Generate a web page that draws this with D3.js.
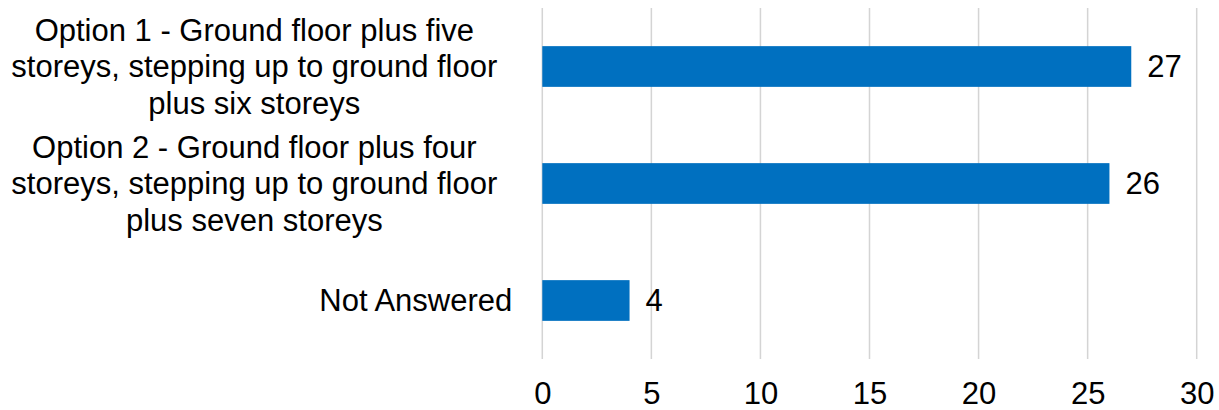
<!DOCTYPE html>
<html>
<head>
<meta charset="utf-8">
<script src="https://cdn.jsdelivr.net/npm/d3@7"></script>
<style>
  html, body { margin: 0; padding: 0; background: #fff; }
  svg { display: block; font-family: "Liberation Sans", Arial, sans-serif; }
</style>
</head>
<body>
<svg id="chart" width="1219" height="410"></svg>
<script>
// Response options (each inner array is one wrapped line of the label)
const categories = [
  ["Option 1 - Ground floor plus five", "storeys, stepping up to ground floor", "plus six storeys"],
  ["Option 2 - Ground floor plus four", "storeys, stepping up to ground floor", "plus seven storeys"],
  ["Not Answered"]
];
const counts = [27, 26, 4];
const xTicks = [0, 5, 10, 15, 20, 25, 30];

const width = 1219, height = 410;
const margin = { top: 8, right: 22.3, bottom: 51, left: 542.3 };
const fontSize = 31;
const lineHeight = 36.5;

const svg = d3.select("#chart");
const g = svg.append("g").attr("transform", `translate(${margin.left},${margin.top})`);
const innerW = width - margin.left - margin.right;
const innerH = height - margin.top - margin.bottom;

const x = d3.scaleLinear().domain([0, 30]).range([0, innerW]);
const y = d3.scaleBand()
  .domain(d3.range(categories.length))
  .range([0, innerH])
  .paddingInner(0.652)
  .paddingOuter(0.326);

// vertical gridlines
g.selectAll("line.grid")
  .data(xTicks)
  .join("line")
  .attr("class", "grid")
  .attr("x1", d => x(d)).attr("x2", d => x(d))
  .attr("y1", 0).attr("y2", innerH)
  .attr("stroke", "#d4d4d4")
  .attr("stroke-width", 1.5);

// bars
g.selectAll("rect.bar")
  .data(counts)
  .join("rect")
  .attr("class", "bar")
  .attr("x", x(0))
  .attr("y", (d, i) => y(i))
  .attr("width", d => x(d) - x(0))
  .attr("height", y.bandwidth())
  .attr("fill", "#0070C0");

// value labels
g.selectAll("text.val")
  .data(counts)
  .join("text")
  .attr("class", "val")
  .attr("x", d => x(d) + 16)
  .attr("y", (d, i) => y(i) + y.bandwidth() / 2)
  .attr("dy", "0.35em")
  .attr("font-size", fontSize)
  .attr("fill", "#000")
  .text(d => d);

// bottom axis tick labels
const xAxis = d3.axisBottom(x).tickValues(xTicks).tickSize(0).tickPadding(23);
const ax = g.append("g").attr("transform", `translate(0,${innerH})`).call(xAxis);
ax.select(".domain").remove();
ax.selectAll("text")
  .attr("font-size", fontSize)
  .attr("font-family", "Liberation Sans, Arial, sans-serif")
  .attr("fill", "#000");

// category labels: wrapped lines centred within the label block
const labelRight = -30;
const labels = g.selectAll("g.cat")
  .data(categories)
  .join("g")
  .attr("class", "cat");

labels.each(function (lines, i) {
  const grp = d3.select(this);
  const cy = y(i) + y.bandwidth() / 2;
  const texts = grp.selectAll("text")
    .data(lines)
    .join("text")
    .attr("font-size", fontSize)
    .attr("fill", "#000")
    .attr("text-anchor", "middle")
    .attr("y", (d, k) => cy + (k - (lines.length - 1) / 2) * lineHeight)
    .attr("dy", "0.35em")
    .text(d => d);
  let maxW = 0;
  texts.each(function () { maxW = Math.max(maxW, this.getComputedTextLength()); });
  const right = lines.length > 1 ? labelRight - 15 : labelRight;
  texts.attr("x", right - maxW / 2);
});
</script>
</body>
</html>
